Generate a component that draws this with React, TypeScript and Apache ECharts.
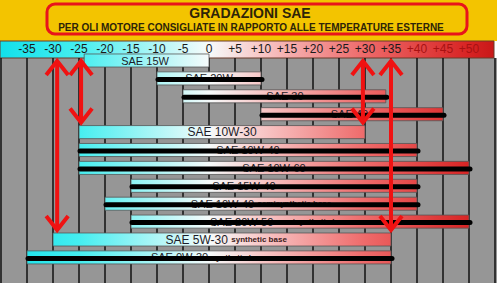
import React, { useEffect, useRef } from 'react';
import * as echarts from 'echarts';

// ---- data ----
const grades = ['SAE 15W', 'SAE 20W', 'SAE 30', 'SAE 40', 'SAE 10W-30', 'SAE 10W-40', 'SAE 10W-60', 'SAE 15W-40', 'SAE 10W-40', 'SAE 20W-50', 'SAE 5W-30', 'SAE 0W-30'];
const baseNotes = ['', '', '', '', '', '', '', '', 'semisynthetic base', 'semisynthetic base', 'synthetic base', 'synthetic base'];
const minTemps = [-24, -10, -5, 10, -25, -25, -25, -15, -20, -15, -30, -35];
const maxTemps = [0, 10, 34, 45, 30, 40, 50, 40, 40, 50, 35, 35];
const struck = [false, true, true, true, false, true, true, true, true, true, false, true];
const labelTemps = [-12.3, 0, 14.6, 27, 2.5, 7.5, 12.5, 6.7, 10, 13.7, 3.3, 0];
const tickTemps = [-35, -30, -25, -20, -15, -10, -5, 0, 5, 10, 15, 20, 25, 30, 35, 40, 45, 50];
const arrowTemps = [-29.2, -24.6, 29.6, 35];
const arrowTargetRows = [10, 4, 4, 10];

const title = 'GRADAZIONI SAE';
const subtitle = 'PER OLI MOTORE CONSIGLIATE IN RAPPORTO ALLE TEMPERATURE ESTERNE';

const T_MIN = -40;
const T_MAX = 55;
const FONT = '"Liberation Sans", Arial, sans-serif';

const gradStops = [
  { offset: 0, color: '#12e0ea' },
  { offset: 15 / 95, color: '#45eef0' },
  { offset: 40 / 95, color: '#f6fbfb' },
  { offset: 50 / 95, color: '#f8c8c8' },
  { offset: 70 / 95, color: '#ee6a6a' },
  { offset: 90 / 95, color: '#d82424' },
  { offset: 1, color: '#c81818' },
];

export default function App() {
  const ref = useRef<HTMLDivElement>(null);
  useEffect(() => {
    if (!ref.current) return;
    const chart = echarts.init(ref.current, undefined, { renderer: 'svg' });
    const BAR_H = 0.73;

    const barData = grades.map((_, i) => [i, minTemps[i], maxTemps[i]]);
    const arrowData = arrowTemps.map((t, i) => [t, arrowTargetRows[i]]);

    chart.setOption({
      animation: false,
      backgroundColor: '#ffffff',
      grid: { left: 1, right: 2, top: 58, bottom: 24 },
      xAxis: {
        type: 'value',
        min: T_MIN,
        max: T_MAX,
        interval: 5,
        position: 'top',
        axisLine: { show: false },
        axisTick: { show: false },
        splitLine: { show: true, lineStyle: { color: '#111', width: 1.5 } },
        axisLabel: {
          margin: 3,
          fontSize: 12,
          lineHeight: 12,
          fontFamily: FONT,
          showMinLabel: false,
          showMaxLabel: false,
          color: (v: any) => (Number(v) >= 40 ? '#a81212' : '#1a1a1a'),
          formatter: (v: number) => (tickTemps.indexOf(v) >= 0 ? (v > 0 ? '+' + v : String(v)) : ''),
        },
      },
      yAxis: { type: 'value', min: -0.14, max: 12.43, inverse: true, show: false },
      graphic: [
        { type: 'rect', z: -10, shape: { x: 0, y: 58, width: 497, height: 225 }, style: { fill: '#969696' } },
        { type: 'rect', z: -10, shape: { x: 0, y: 0, width: 497, height: 41 }, style: { fill: '#f3c400' } },
        {
          type: 'rect', z: -5,
          shape: { x: 0, y: 41, width: 494, height: 17 },
          style: {
            fill: new echarts.graphic.LinearGradient(0, 0, 1, 0, gradStops),
            stroke: '#6a3a2a', lineWidth: 1,
          },
        },
        {
          type: 'rect', z: 50,
          shape: { x: 47, y: 4, width: 420, height: 30, r: 8 },
          style: { fill: 'none', stroke: '#e8141b', lineWidth: 3 },
        },
        {
          type: 'text', z: 51, x: 250, y: 13,
          style: { text: title, font: `bold 14px ${FONT}`, fill: '#2e2408', align: 'center', verticalAlign: 'middle' },
        },
        {
          type: 'text', z: 51, x: 251, y: 27.5,
          style: { text: subtitle, font: `bold 10px ${FONT}`, fill: '#2e2408', align: 'center', verticalAlign: 'middle' },
        },
      ],
      series: [
        {
          type: 'custom',
          data: barData,
          z: 3,
          renderItem: (params: any, api: any) => {
            const i = api.value(0);
            const s = api.coord([api.value(1), i]);
            const e = api.coord([api.value(2), i]);
            const h = api.size([0, BAR_H])[1];
            const gx0 = api.coord([T_MIN, i])[0];
            const gx1 = api.coord([T_MAX, i])[0];
            const cy = s[1];
            const children: any[] = [
              {
                type: 'rect',
                shape: { x: s[0], y: cy - h / 2, width: e[0] - s[0], height: h },
                style: {
                  fill: new echarts.graphic.LinearGradient(gx0, 0, gx1, 0, gradStops, true),
                  stroke: '#555', lineWidth: 0.8,
                },
              },
            ];
            const lx = api.coord([labelTemps[i], i])[0];
            const note = baseNotes[i];
            const big = i === 4 || i === 10;
            children.push({
              type: 'text',
              x: lx, y: cy,
              style: {
                text: note ? `{a|${grades[i]}} {b|${note}}` : `{a|${grades[i]}}`,
                rich: {
                  a: { fontSize: big ? 12 : 11, lineHeight: 12, fontFamily: FONT, fill: '#1c1c28' },
                  b: { fontSize: 8, lineHeight: 12, fontFamily: FONT, fontWeight: 'bold', fill: '#3a1a1a' },
                },
                align: 'center', verticalAlign: 'middle',
              },
            });
            if (struck[i]) {
              children.push({
                type: 'line',
                shape: { x1: s[0] + 1, y1: cy + 1, x2: e[0] + 1, y2: cy + 1 },
                style: { stroke: '#000', lineWidth: 5, lineCap: 'round' },
              });
            }
            return { type: 'group', children };
          },
        },
        {
          type: 'custom',
          data: arrowData,
          z: 5,
          clip: false,
          renderItem: (params: any, api: any) => {
            const t = api.value(0);
            const row = api.value(1);
            const x = api.coord([t, row])[0];
            const h = api.size([0, BAR_H])[1];
            const yTop = api.coord([t, -0.03])[1];
            const yBot = api.coord([t, row])[1] - h / 2 - 2;
            const st = { stroke: '#f01212', lineWidth: 4, fill: 'none', lineJoin: 'miter' };
            return {
              type: 'group',
              children: [
                { type: 'line', shape: { x1: x, y1: yTop + 2, x2: x, y2: yBot - 2 }, style: st },
                { type: 'polyline', shape: { points: [[x - 11, yTop + 15], [x, yTop + 1], [x + 11, yTop + 15]] }, style: st },
                { type: 'polyline', shape: { points: [[x - 11, yBot - 15], [x, yBot - 1], [x + 11, yBot - 15]] }, style: st },
              ],
            };
          },
        },
      ],
    });
    return () => chart.dispose();
  }, []);
  return <div ref={ref} style={{ position: 'absolute', left: 0, top: 0, width: 497, height: 307 }} />;
}
